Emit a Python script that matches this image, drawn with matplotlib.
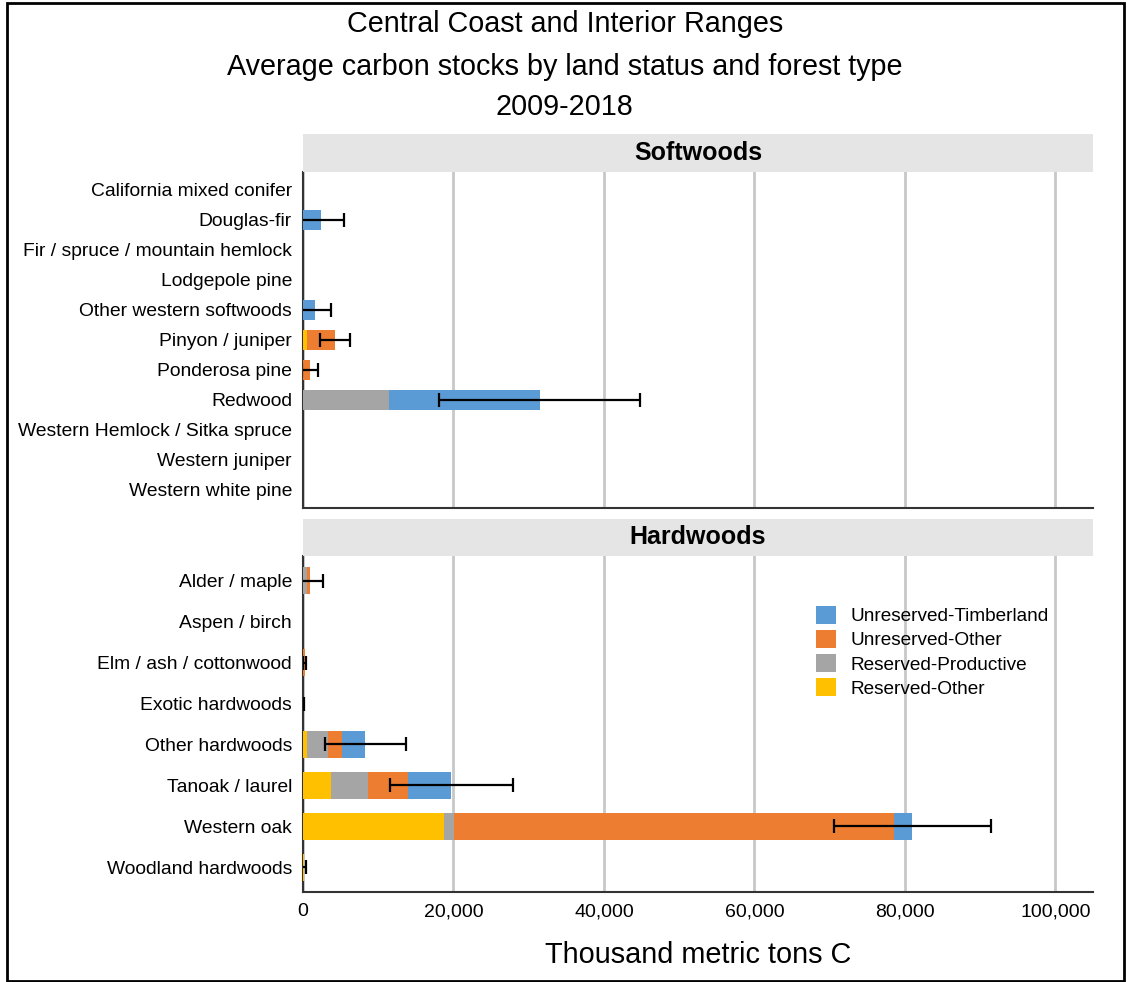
import numpy as np
import matplotlib
matplotlib.use('Agg')
import matplotlib.pyplot as plt
from matplotlib.patches import Rectangle
from matplotlib.ticker import FuncFormatter

plt.rcParams['font.family'] = ['Liberation Sans', 'DejaVu Sans']

# softwoods panel
soft_types = ['California mixed conifer', 'Douglas-fir', 'Fir / spruce / mountain hemlock',
              'Lodgepole pine', 'Other western softwoods', 'Pinyon / juniper', 'Ponderosa pine',
              'Redwood', 'Western Hemlock / Sitka spruce', 'Western juniper', 'Western white pine']
soft_res_other = [0, 0, 0, 0, 0, 570, 0, 0, 0, 0, 0]
soft_res_prod = [0, 0, 0, 0, 0, 0, 0, 11480, 0, 0, 0]
soft_unres_other = [0, 0, 0, 0, 0, 3680, 930, 0, 0, 0, 0]
soft_unres_timber = [0, 2350, 0, 0, 1550, 0, 0, 19960, 0, 0, 0]
soft_err = [0, 3100, 0, 0, 2170, 1950, 1070, 13300, 0, 0, 0]

# hardwoods panel
hard_types = ['Alder / maple', 'Aspen / birch', 'Elm / ash / cottonwood', 'Exotic hardwoods',
              'Other hardwoods', 'Tanoak / laurel', 'Western oak', 'Woodland hardwoods']
hard_res_other = [0, 0, 0, 0, 580, 3680, 18800, 80]
hard_res_prod = [580, 0, 0, 0, 2800, 5020, 1240, 0]
hard_unres_other = [400, 0, 200, 30, 1770, 5320, 58560, 0]
hard_unres_timber = [0, 0, 0, 0, 3150, 5710, 2400, 0]
hard_err = [1680, 0, 250, 60, 5400, 8140, 10400, 370]

series_names = ['Reserved-Other', 'Reserved-Productive', 'Unreserved-Other', 'Unreserved-Timberland']
colors = ['#FFC000', '#A5A5A5', '#ED7D31', '#5B9BD5']

W, H = 1127, 982
fig = plt.figure(figsize=(W / 100, H / 100), dpi=100)

# frame around the whole picture
fig.patches.append(Rectangle((7 / W, 1 / H), 1117 / W, 978 / H, transform=fig.transFigure,
                             fill=False, edgecolor='black', linewidth=2))

fig.text(0.501, 1 - 24 / H, 'Central Coast and Interior Ranges', ha='center', va='center', fontsize=20.7)
fig.text(0.501, 1 - 67 / H, 'Average carbon stocks by land status and forest type', ha='center', va='center', fontsize=20.7)
fig.text(0.501, 1 - 107 / H, '2009-2018', ha='center', va='center', fontsize=20.7)


def panel(rect, strip_rect, title, types, stacks, err, show_x, pad):
    ax = fig.add_axes(rect)
    y = np.arange(len(types))
    left = np.zeros(len(types))
    handles = []
    for vals, name, c in zip(stacks, series_names, colors):
        vals = np.array(vals, dtype=float)
        h = ax.barh(y, vals, left=left, height=0.67, color=c, label=name, zorder=3)
        handles.append(h)
        left += vals
    err = np.array(err, dtype=float)
    m = err > 0
    ax.errorbar(left[m], y[m], xerr=err[m], fmt='none', ecolor='black', elinewidth=1.6,
                capsize=5, capthick=1.6, zorder=4)
    ax.set_xlim(0, 105000)
    ax.set_ylim(len(types) - 1 + pad, -pad)
    ax.set_yticks(y)
    ax.set_yticklabels(types, fontsize=13.9)
    ax.set_xticks([0, 20000, 40000, 60000, 80000, 100000])
    ax.xaxis.set_major_formatter(FuncFormatter(lambda v, p: f'{int(v):,}'))
    ax.tick_params(axis='y', length=0, pad=8)
    ax.tick_params(axis='x', length=0, labelsize=14, pad=8)
    if not show_x:
        ax.set_xticklabels([])
    ax.grid(axis='x', color='#c8c8c8', linewidth=2, zorder=0)
    ax.set_axisbelow(True)
    for s in ['top', 'right']:
        ax.spines[s].set_visible(False)
    for s in ['left', 'bottom']:
        ax.spines[s].set_color('#333333')
        ax.spines[s].set_linewidth(1.5)
    sax = fig.add_axes(strip_rect)
    sax.set_facecolor('#e5e5e5')
    sax.set_xticks([])
    sax.set_yticks([])
    for s in sax.spines.values():
        s.set_visible(False)
    sax.text(0.5, 0.5, title, ha='center', va='center', fontsize=18, fontweight='bold',
             transform=sax.transAxes)
    return ax, handles


x0, w = 303 / W, 790 / W
ax1, _ = panel([x0, 1 - 508 / H, w, 336 / H], [x0, 1 - 172 / H, w, 38 / H], 'Softwoods', soft_types,
               [soft_res_other, soft_res_prod, soft_unres_other, soft_unres_timber], soft_err, False, 0.6)
ax2, handles = panel([x0, 1 - 892 / H, w, 336 / H], [x0, 1 - 556 / H, w, 37 / H], 'Hardwoods', hard_types,
                     [hard_res_other, hard_res_prod, hard_unres_other, hard_unres_timber], hard_err, True, 0.6)

ax2.legend(handles[::-1], series_names[::-1], loc='upper left', bbox_to_anchor=(0.64, 0.875),
           frameon=False, fontsize=13.7, handlelength=1.05, handleheight=1.1, handletextpad=0.75,
           labelspacing=0.24, borderaxespad=0)

fig.text((303 + 395) / W, 1 - 955 / H, 'Thousand metric tons C', ha='center', va='center', fontsize=20.8)

fig.savefig('out.png', dpi=100)
